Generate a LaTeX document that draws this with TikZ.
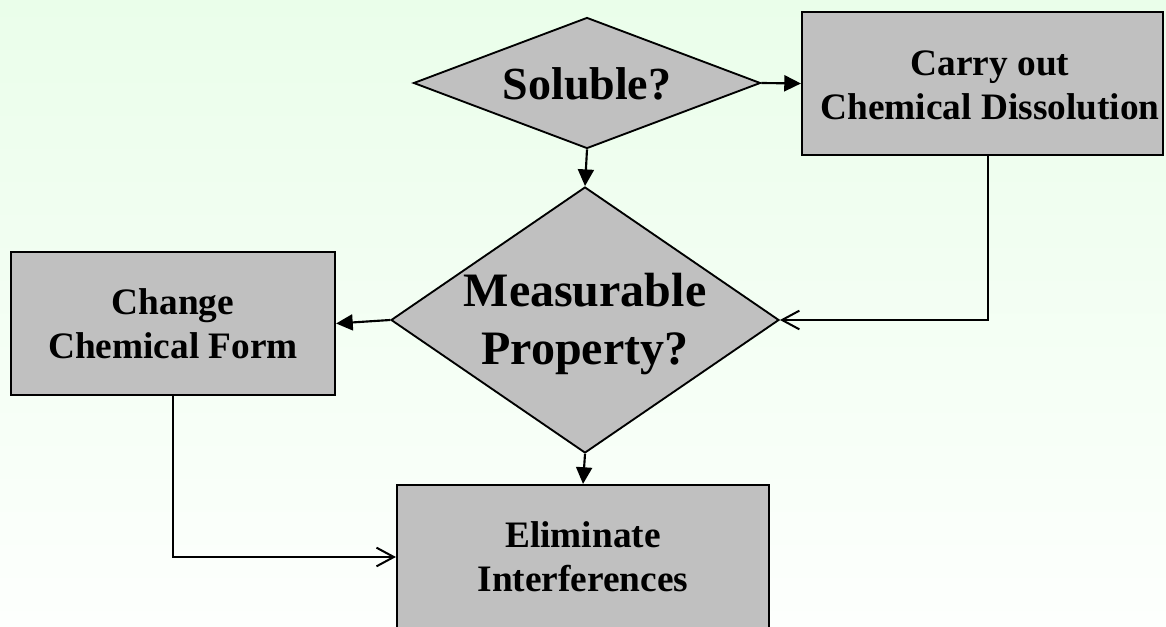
\documentclass[tikz,border=0pt]{standalone}
\usepackage{fontspec}
\setmainfont{Liberation Serif}
\usetikzlibrary{shapes.geometric,arrows.meta}
\definecolor{boxgray}{RGB}{192,192,192}
\definecolor{bgtop}{RGB}{234,254,234}
\definecolor{bgbot}{RGB}{253,255,253}
\tikzset{
  dia/.style={diamond, draw=black, line width=1.4pt, fill=boxgray, inner sep=0pt, aspect=1},
  procbox/.style={rectangle, draw=black, line width=1.6pt, fill=boxgray, inner sep=0pt, align=center,
     font=\bfseries\fontsize{28pt}{33pt}\selectfont},
  dtext/.style={align=center, inner sep=0pt},
  conn/.style={line width=1.6pt},
  fillarrow/.style={conn, -{Triangle[length=12.5pt,width=12pt]}},
  openarrow/.style={conn, -{Straight Barb[length=13pt,width=14pt,line width=1.5pt]}}
}
\begin{document}
\begin{tikzpicture}[x=0.75pt,y=-0.75pt]
\useasboundingbox (0,0) rectangle (1166,627);
\clip (0,0) rectangle (1166,627);
\shade[top color=bgtop, bottom color=bgbot] (0,0) rectangle (1166,627);

% decision diamonds
\node[dia, minimum width=347*0.75pt, minimum height=131*0.75pt] (sol) at (587,83) {};
\node[dtext, font=\bfseries\fontsize{34.5pt}{40pt}\selectfont] (solT) at (587,84) {Soluble?};

\node[dia, minimum width=388*0.75pt, minimum height=266*0.75pt] (meas) at (585,320) {};
\node[dtext, font=\bfseries\fontsize{36pt}{43pt}\selectfont] (measT) at (585,324) {Measurable\\Property?};

% process boxes
\node[procbox, minimum width=361*0.75pt, minimum height=143*0.75pt] (carry) at (982.5,83.5) {};
\node[dtext, font=\bfseries\fontsize{28pt}{33pt}\selectfont] (carryT) at (990,85) {Carry out\\Chemical Dissolution};
\node[procbox, minimum width=324*0.75pt, minimum height=143*0.75pt] (change) at (173,323.5) {Change\\Chemical Form};
\node[procbox, minimum width=372*0.75pt, minimum height=144*0.75pt] (elim) at (583,557) {Eliminate\\Interferences};

% connectors
\draw[fillarrow] (sol.east) -- (carry.west);
\draw[fillarrow] (sol.south) -- (meas.north);
\draw[fillarrow] (meas.west) -- (change.east);
\draw[fillarrow] (meas.south) -- (elim.north);
\draw[openarrow] ([xshift=4pt]carry.south) |- (meas.east);
\draw[openarrow] (change.south) |- (elim.west);
\end{tikzpicture}
\end{document}
